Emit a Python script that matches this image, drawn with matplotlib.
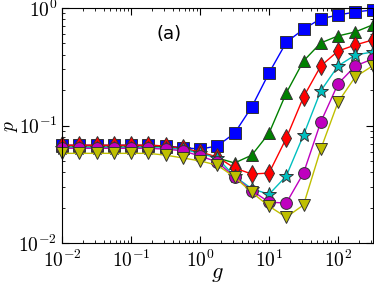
import numpy as np
import matplotlib
matplotlib.use("Agg")
import matplotlib.pyplot as plt
from matplotlib.ticker import FuncFormatter, LogLocator

plt.rcParams['mathtext.fontset'] = 'cm'

# g values: 10^-2 ... 10^2.5 in quarter decades
g = 10 ** np.arange(-2, 2.51, 0.25)

p_blue = [0.068, 0.068, 0.068, 0.068, 0.068, 0.068, 0.067, 0.065, 0.063, 0.067,
          0.086, 0.144, 0.28, 0.51, 0.66, 0.81, 0.87, 0.925, 0.96]
p_green = [0.067, 0.067, 0.067, 0.067, 0.067, 0.067, 0.066, 0.064, 0.0595, 0.053,
           0.048, 0.056, 0.086, 0.189, 0.354, 0.504, 0.578, 0.625, 0.717]
p_red = [0.068, 0.068, 0.068, 0.068, 0.068, 0.068, 0.067, 0.064, 0.0595, 0.054,
         0.0435, 0.0387, 0.0394, 0.078, 0.175, 0.321, 0.43, 0.484, 0.534]
p_cyan = [0.065, 0.065, 0.065, 0.065, 0.065, 0.065, 0.064, 0.063, 0.058, 0.053,
          0.037, 0.029, 0.026, 0.0372, 0.083, 0.197, 0.321, 0.398, 0.422]
p_magenta = [0.064, 0.064, 0.064, 0.064, 0.064, 0.064, 0.063, 0.061, 0.055, 0.049,
             0.0365, 0.028, 0.0223, 0.0219, 0.0394, 0.107, 0.226, 0.321, 0.368]
p_yellow = [0.058, 0.058, 0.058, 0.058, 0.058, 0.058, 0.056, 0.053, 0.050, 0.046,
            0.0365, 0.027, 0.0206, 0.0166, 0.0211, 0.063, 0.158, 0.259, 0.321]

series = [
    (p_blue, 'b', 's', 8),
    (p_green, 'g', '^', 9),
    (p_red, 'r', 'd', 9),
    (p_cyan, 'c', '*', 10),
    (p_magenta, 'm', 'o', 8.5),
    (p_yellow, 'y', 'v', 9),
]

fig = plt.figure(figsize=(3.74, 2.84), dpi=100)
ax = fig.add_axes([0.166, 0.144, 0.830, 0.828])

for vals, col, mk, ms in series:
    ax.plot(g, vals, color=col, marker=mk, markersize=ms, markeredgecolor='#333333',
            markeredgewidth=0.7, linewidth=1.0, clip_on=False)

ax.set_xscale('log')
ax.set_yscale('log')
ax.set_xlim(1e-2, 10 ** 2.5)
ax.set_ylim(1e-2, 1)

fmt = FuncFormatter(lambda v, pos: r'$10^{%d}$' % round(np.log10(v)))
ax.xaxis.set_major_formatter(fmt)
ax.yaxis.set_major_formatter(fmt)
ax.xaxis.set_major_locator(LogLocator(base=10, numticks=10))
ax.yaxis.set_major_locator(LogLocator(base=10, numticks=10))
ax.tick_params(which='both', direction='in', top=True, right=True, labelsize=14)
ax.tick_params(axis='x', which='both', pad=5)
ax.tick_params(axis='y', which='both', pad=3.5)
ax.tick_params(which='major', length=5)
ax.tick_params(which='minor', length=2.5)

ax.set_xlabel('$g$', fontsize=16, labelpad=-5)
ax.set_ylabel('$p$', fontsize=14, labelpad=-1.5)

ax.text(0.345, 0.89, '(a)', transform=ax.transAxes, fontsize=13, ha='center', va='center')

fig.savefig('out.png', dpi=100)
